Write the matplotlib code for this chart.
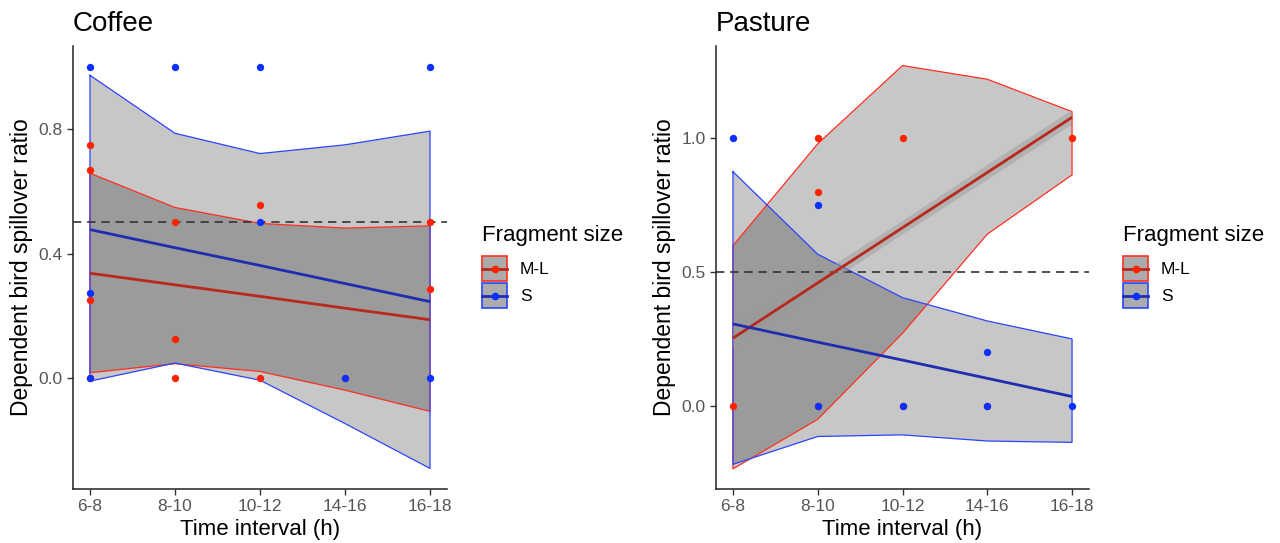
import matplotlib
matplotlib.use("Agg")
import matplotlib.pyplot as plt
from matplotlib.patches import Rectangle
from matplotlib.lines import Line2D
from matplotlib.legend_handler import HandlerBase

plt.rcParams['font.family'] = ['Liberation Sans', 'DejaVu Sans']

# ---- data -------------------------------------------------------------
intervals = ["6-8", "8-10", "10-12", "14-16", "16-18"]
pos = [1, 2, 3, 4, 5]

# Coffee: observed ratios (x index, value)
coffee_ml_x = [1, 1, 1, 1, 2, 2, 2, 3, 3, 4, 5, 5]
coffee_ml_y = [0.75, 0.667, 0.25, 0.0, 0.5, 0.125, 0.0, 0.556, 0.0, 0.0, 0.5, 0.286]
coffee_s_x = [1, 1, 1, 2, 3, 3, 4, 5, 5]
coffee_s_y = [1.0, 0.273, 0.0, 1.0, 1.0, 0.5, 0.0, 1.0, 0.0]

# Coffee: fitted trend and model confidence band
coffee_ml_fit = [0.337, 0.300, 0.263, 0.225, 0.188]
coffee_s_fit = [0.477, 0.419, 0.362, 0.304, 0.246]
coffee_ml_lo = [0.018, 0.047, 0.022, -0.038, -0.106]
coffee_ml_hi = [0.658, 0.548, 0.497, 0.482, 0.489]
coffee_s_lo = [-0.009, 0.049, -0.006, -0.145, -0.289]
coffee_s_hi = [0.972, 0.786, 0.721, 0.749, 0.793]

# Pasture: observed ratios
pasture_ml_x = [1, 2, 2, 2, 3, 3, 4, 5]
pasture_ml_y = [0.0, 1.0, 0.8, 0.0, 1.0, 0.0, 0.0, 1.0]
pasture_s_x = [1, 2, 2, 3, 4, 4, 5]
pasture_s_y = [1.0, 0.75, 0.0, 0.0, 0.2, 0.0, 0.0]

# Pasture: fitted trend and model confidence band
pasture_ml_fit = [0.253, 0.459, 0.665, 0.871, 1.077]
pasture_s_fit = [0.306, 0.238, 0.171, 0.103, 0.035]
pasture_ml_lo = [-0.235, -0.050, 0.271, 0.641, 0.862]
pasture_ml_hi = [0.598, 0.978, 1.270, 1.219, 1.098]
pasture_s_lo = [-0.218, -0.114, -0.108, -0.131, -0.136]
pasture_s_hi = [0.874, 0.566, 0.404, 0.317, 0.250]
# standard-error band of the M-L trend line
pasture_ml_se_lo = [0.213, 0.430, 0.640, 0.843, 1.050]
pasture_ml_se_hi = [0.298, 0.488, 0.690, 0.899, 1.104]

legend_labels = ["M-L", "S"]

# ---- style ------------------------------------------------------------
RED_PT, BLUE_PT = "#FF2200", "#0A30FF"
RED_LN, BLUE_LN = "#B8281C", "#1F2DB0"
RED_EDGE, BLUE_EDGE = "#FF3020", "#2A45FF"
TICK_COL = "#555555"


class KeyStyle:
    def __init__(self, edge, line, point):
        self.edge, self.line, self.point = edge, line, point


class KeyHandler(HandlerBase):
    """Grey square with coloured border, a line and a point through its middle."""

    def create_artists(self, legend, orig, xdescent, ydescent, width, height,
                       fontsize, trans):
        x0, y0 = -xdescent, -ydescent
        yc = y0 + height / 2
        box = Rectangle((x0, y0), width, height, facecolor="#ABABAB",
                        edgecolor=orig.edge, lw=1.2, transform=trans)
        ln = Line2D([x0, x0 + width], [yc, yc], color=orig.line, lw=2.0,
                    transform=trans)
        pt = Line2D([x0 + width / 2], [yc], marker="o", ms=5.5, lw=0,
                    markerfacecolor=orig.point, markeredgewidth=0,
                    transform=trans)
        return [box, ln, pt]


fig = plt.figure(figsize=(12.8, 5.43), dpi=100)
ax1 = fig.add_axes([73 / 1280, 1 - 489 / 543, 374 / 1280, 443 / 543])
ax2 = fig.add_axes([716 / 1280, 1 - 489 / 543, 373 / 1280, 443 / 543])


def ribbon(ax, lo, hi, edge):
    ax.fill_between(pos, lo, hi, facecolor="black", alpha=0.22, lw=0, zorder=1)
    xs = pos + pos[::-1] + [pos[0]]
    ys = list(hi) + list(lo)[::-1] + [hi[0]]
    ax.plot(xs, ys, color=edge, lw=0.9, zorder=2)


def panel(ax, title, ml, s, ylim, yticks):
    (ml_x, ml_y, ml_fit, ml_lo, ml_hi) = ml
    (s_x, s_y, s_fit, s_lo, s_hi) = s
    ribbon(ax, ml_lo, ml_hi, RED_EDGE)
    ribbon(ax, s_lo, s_hi, BLUE_EDGE)
    ax.axhline(0.5, color="#333333", lw=1.2, ls=(0, (5, 3.5)), zorder=3)
    ax.plot(pos, ml_fit, color=RED_LN, lw=2.0, zorder=4, solid_capstyle="butt")
    ax.plot(pos, s_fit, color=BLUE_LN, lw=2.0, zorder=4, solid_capstyle="butt")
    ax.scatter(ml_x, ml_y, s=28, color=RED_PT, lw=0, zorder=5)
    ax.scatter(s_x, s_y, s=28, color=BLUE_PT, lw=0, zorder=6)

    ax.set_xlim(0.8, 5.2)
    ax.set_ylim(*ylim)
    ax.set_xticks(pos)
    ax.set_xticklabels(intervals)
    ax.set_yticks(yticks)
    ax.set_yticklabels([f"{v:.1f}" for v in yticks])
    for sp in ("top", "right"):
        ax.spines[sp].set_visible(False)
    for sp in ("left", "bottom"):
        ax.spines[sp].set_linewidth(1.1)
        ax.spines[sp].set_color("#222222")
    ax.tick_params(axis="both", direction="out", length=4, width=1.0,
                   color="#333333", labelcolor=TICK_COL, labelsize=12.5, pad=3.5)
    ax.set_xlabel("Time interval (h)", fontsize=16, labelpad=3)
    ax.set_ylabel("Dependent bird spillover ratio", fontsize=16.5, labelpad=4)
    ax.set_title(title, loc="left", fontsize=20, pad=11)


panel(ax1, "Coffee",
      (coffee_ml_x, coffee_ml_y, coffee_ml_fit, coffee_ml_lo, coffee_ml_hi),
      (coffee_s_x, coffee_s_y, coffee_s_fit, coffee_s_lo, coffee_s_hi),
      (-0.355, 1.066), [0.0, 0.4, 0.8])

panel(ax2, "Pasture",
      (pasture_ml_x, pasture_ml_y, pasture_ml_fit, pasture_ml_lo, pasture_ml_hi),
      (pasture_s_x, pasture_s_y, pasture_s_fit, pasture_s_lo, pasture_s_hi),
      (-0.310, 1.343), [0.0, 0.5, 1.0])
ax2.fill_between(pos, pasture_ml_se_lo, pasture_ml_se_hi, facecolor="#999999",
                 alpha=0.45, lw=0, zorder=3.5)

keys = [KeyStyle(RED_EDGE, RED_LN, RED_PT), KeyStyle(BLUE_EDGE, BLUE_LN, BLUE_PT)]
for x0 in (482, 1123):
    fig.text(x0 / 1280, 1 - 236 / 543, "Fragment size", fontsize=16,
             ha="left", va="center")
    fig.legend(keys, legend_labels,
               handler_map={KeyStyle: KeyHandler()},
               loc="upper left", bbox_to_anchor=(x0 / 1280, 1 - 256 / 543),
               frameon=False, fontsize=12.5,
               handlelength=1.44, handleheight=1.84, handletextpad=0.75,
               labelspacing=0.12, borderaxespad=0, borderpad=0)

fig.savefig("out.png", dpi=100)
